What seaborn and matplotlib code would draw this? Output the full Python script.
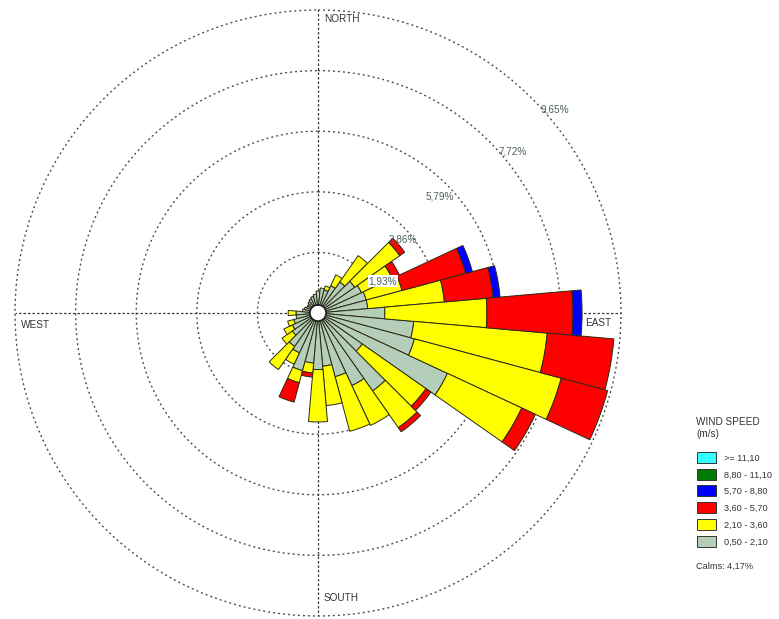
import numpy as np
import pandas as pd
import matplotlib
matplotlib.use("Agg")
import matplotlib.pyplot as plt
import seaborn as sns

# Wind directions (degrees, clockwise from north), 10-degree sectors
directions = list(range(0, 360, 10))

# Frequency (%) of each wind-speed class per direction
calm_pct = 4.17
spd_050_210 = [0.70, 0.80, 0.76, 0.96, 1.21, 1.43, 1.53, 1.59, 1.59, 2.13,
               3.06, 3.18, 4.55, 1.72, 3.03, 2.55, 2.10, 1.70,
               1.80, 1.60, 1.90, 1.40, 1.30, 1.00, 0.90, 0.80,
               0.70, 0.70, 0.50, 0.45, 0.40, 0.40, 0.45, 0.50, 0.55, 0.60]
spd_210_360 = [0.00, 0.00, 0.13, 0.38, 1.02, 1.75, 1.08, 1.18, 2.45, 3.25,
               4.27, 4.84, 2.61, 2.48, 1.43, 1.40, 1.80, 1.26,
               1.67, 0.32, 0.40, 0.40, 0.90, 0.40, 0.30, 0.20,
               0.00, 0.25, 0.00, 0.00, 0.00, 0.00, 0.00, 0.00, 0.00, 0.00]
spd_360_570 = [0.00, 0.00, 0.00, 0.00, 0.00, 0.19, 0.25, 2.10, 1.56, 2.74,
               2.13, 1.53, 0.48, 0.19, 0.16, 0.00, 0.00, 0.00,
               0.00, 0.13, 0.64, 0.00, 0.00, 0.00, 0.00, 0.00,
               0.00, 0.00, 0.00, 0.00, 0.00, 0.00, 0.00, 0.00, 0.00, 0.00]
spd_570_880 = [0.00, 0.00, 0.00, 0.00, 0.00, 0.00, 0.00, 0.22, 0.22, 0.29,
               0.00, 0.00, 0.00, 0.00, 0.00, 0.00, 0.00, 0.00,
               0.00, 0.00, 0.00, 0.00, 0.00, 0.00, 0.00, 0.00,
               0.00, 0.00, 0.00, 0.00, 0.00, 0.00, 0.00, 0.00, 0.00, 0.00]
spd_880_1110 = [0.0] * 36
spd_ge_1110 = [0.0] * 36

class_labels = ["0,50 - 2,10", "2,10 - 3,60", "3,60 - 5,70",
                "5,70 - 8,80", "8,80 - 11,10", ">= 11,10"]
class_colors = ["#b5ceba", "#ffff00", "#ff0000", "#0000ff", "#007a00", "#33ffff"]
ring_values = [1.93, 3.86, 5.79, 7.72, 9.65]
ring_labels = ["1,93%", "3,86%", "5,79%", "7,72%", "9,65%"]

df = pd.DataFrame({
    "direction": directions,
    class_labels[0]: spd_050_210,
    class_labels[1]: spd_210_360,
    class_labels[2]: spd_360_570,
    class_labels[3]: spd_570_880,
    class_labels[4]: spd_880_1110,
    class_labels[5]: spd_ge_1110,
})

sns.set_theme(style="white")
plt.rcParams["font.family"] = ["Liberation Sans", "DejaVu Sans"]

W, H = 779, 619
fig = plt.figure(figsize=(W / 100, H / 100), dpi=100)
cx, cy, R = 318, 313, 303
ax = fig.add_axes([(cx - R) / W, (H - cy - R) / H, 2 * R / W, 2 * R / H],
                  projection="polar")
ax.set_theta_zero_location("N")
ax.set_theta_direction(-1)
ax.set_ylim(0, ring_values[-1])

theta = np.deg2rad(df["direction"].to_numpy())
width = np.deg2rad(10)
bottom = np.zeros(len(df))
for lab, col in zip(class_labels, class_colors):
    vals = df[lab].to_numpy()
    mask = vals > 0
    ax.bar(theta[mask], vals[mask], width=width, bottom=bottom[mask],
           color=col, edgecolor="#2a2a12", linewidth=0.7, zorder=3)
    bottom = bottom + vals

# calm circle in the middle
calm_r = 0.26
t = np.linspace(0, 2 * np.pi, 200)
ax.fill(t, np.full_like(t, calm_r), color="white", zorder=4)
ax.plot(t, np.full_like(t, calm_r), color="#1a1a1a", lw=1.3, zorder=5)

# dotted range rings and compass cross
ax.grid(False)
ax.set_xticks([])
ax.set_yticks([])
ax.spines["polar"].set_visible(False)
for rv in ring_values:
    ax.plot(t, np.full_like(t, rv), color="#4a4a4a", lw=1.0,
            linestyle=(0, (1.4, 2.2)), zorder=1, clip_on=False)
for ang in [0, 90, 180, 270]:
    ax.plot([np.deg2rad(ang)] * 2, [0, ring_values[-1]], color="#3a3a3a",
            lw=0.9, linestyle=(0, (2.0, 1.6)), zorder=1, clip_on=False)

def px(x, y):
    return x / W, 1 - y / H

txt = dict(fontsize=7.2, color="#333333")
fig.text(*px(324, 19), "NORTH", ha="left", va="center", **txt)
fig.text(*px(585, 323), "EAST", ha="left", va="center", **txt)
fig.text(*px(324, 598), "SOUTH", ha="left", va="center", **txt)
fig.text(*px(21, 325), "WEST", ha="left", va="center", **txt)

ring_pos = [(383, 281), (403, 240), (440, 197), (513, 152), (555, 110)]
for (x, y), lab in zip(ring_pos, ring_labels):
    kw = dict(ha="center", va="center", fontsize=7.2, color="#4f5f5f", zorder=6)
    if lab == "1,93%":
        kw["bbox"] = dict(facecolor="white", edgecolor="none", pad=0.6)
    fig.text(*px(x, y), lab, **kw)

# legend block
fig.text(*px(696, 422), "WIND SPEED", ha="left", va="center", fontsize=7.2, color="#333333")
fig.text(*px(696, 434), "(m/s)", ha="left", va="center", fontsize=7.2, color="#333333")
row_y = [458, 475, 491, 508, 525, 542]
for yy, lab, col in zip(row_y, class_labels[::-1], class_colors[::-1]):
    fig.patches.append(plt.Rectangle(px(697, yy + 5), 19 / W, 11 / H,
                                     transform=fig.transFigure, facecolor=col,
                                     edgecolor="#333333", lw=0.7))
    fig.text(*px(724, yy), lab, ha="left", va="center", fontsize=6.6, color="#333333")
calm_txt = f"{calm_pct:.2f}".replace(".", ",")
fig.text(*px(696, 566), f"Calms: {calm_txt}%", ha="left", va="center",
         fontsize=6.6, color="#333333")

fig.savefig("out.png", dpi=100, facecolor="white")
